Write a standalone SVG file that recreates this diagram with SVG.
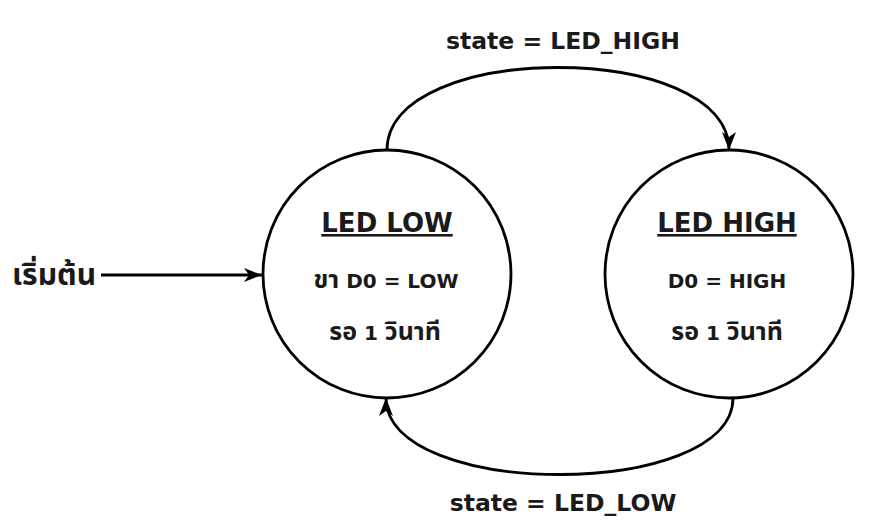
<svg xmlns="http://www.w3.org/2000/svg" width="890" height="530" viewBox="0 0 890 530">
<style>
text{font-family:"DejaVu Sans","Noto Sans Thai","Noto Sans",sans-serif;font-weight:bold;fill:#1a1a1a;text-anchor:middle}
.state{fill:#fff;stroke:#000;stroke-width:2.8}
.edge{fill:none;stroke:#000;stroke-width:2.8}
.title{font-size:26px;text-decoration:underline}
.body{font-size:20px}
.th{font-size:25px}
.lbl{font-size:23.5px}
.start{font-size:30px}
</style>
<defs>
<marker id="arr" viewBox="0 0 18 14" refX="18" refY="7" markerWidth="18" markerHeight="14" markerUnits="userSpaceOnUse" orient="auto">
<path d="M0,0 L18,7 L0,14 L5,7 Z" fill="#000"/>
</marker>
</defs>
<g id="connectors">
<path class="edge" d="M101,275 L262,275" marker-end="url(#arr)"/>
<path class="edge" d="M387,150 C387,40 729,40 729,150" marker-end="url(#arr)"/>
<path class="edge" d="M733,398 C733,500 386,500 386,398" marker-end="url(#arr)"/>
</g>
<g id="start-label">
<text x="54" y="285" class="start">เริ่มต้น</text>
</g>
<g id="label-high">
<text x="563" y="49" class="lbl">state = LED_HIGH</text>
</g>
<g id="label-low">
<text x="563" y="511" class="lbl">state = LED_LOW</text>
</g>
<g id="led-low">
<circle class="state" cx="387" cy="274" r="124"/>
<text x="387" y="232" class="title">LED LOW</text>
<text x="386" y="288" class="body"><tspan class="th">ขา</tspan> D0 = LOW</text>
<text x="385" y="340" class="body"><tspan class="th">รอ</tspan> 1 <tspan class="th">วินาที</tspan></text>
</g>
<g id="led-high">
<circle class="state" cx="729" cy="274" r="124"/>
<text x="727" y="232" class="title">LED HIGH</text>
<text x="727" y="288" class="body">D0 = HIGH</text>
<text x="727" y="340" class="body"><tspan class="th">รอ</tspan> 1 <tspan class="th">วินาที</tspan></text>
</g>
</svg>
